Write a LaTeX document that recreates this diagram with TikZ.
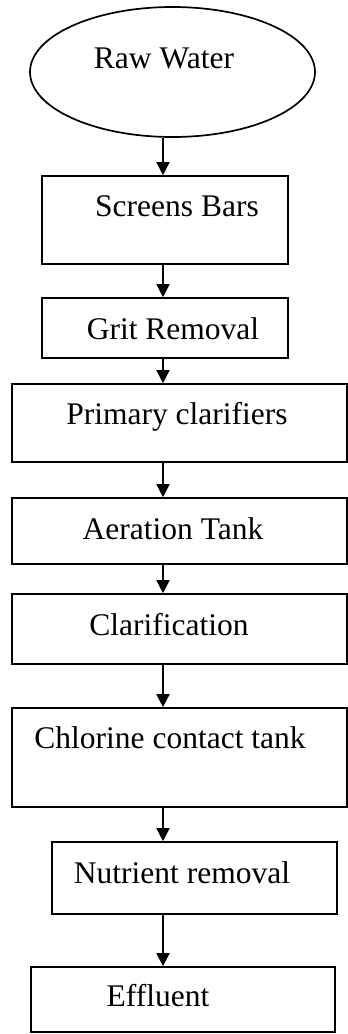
\documentclass[tikz,border=0pt]{standalone}
\usepackage{fontspec}
\setmainfont{Liberation Serif}
\usetikzlibrary{shapes.geometric,arrows.meta}
\begin{document}
\begin{tikzpicture}[x=1pt,y=-1pt,
  box/.style={draw,line width=1.7pt,rectangle,inner sep=0pt},
  lbl/.style={anchor=base,inner sep=0pt,font=\fontsize{31.5}{36}\selectfont},
  arr/.style={line width=1.7pt,-{Triangle[length=13pt,width=13pt]}}]
\useasboundingbox (0,0) rectangle (348,1034);
\node[draw,line width=1.7pt,ellipse,minimum width=285pt,minimum height=130pt,inner sep=0pt] (raw) at (172.5,72) {};
\node[box,minimum width=246pt,minimum height=88pt] (sb) at (165,220) {};
\node[box,minimum width=246pt,minimum height=60pt] (gr) at (165,328) {};
\node[box,minimum width=335pt,minimum height=78pt] (pc) at (179.5,423) {};
\node[box,minimum width=335pt,minimum height=66pt] (at) at (179.5,531) {};
\node[box,minimum width=335pt,minimum height=70pt] (cl) at (179.5,629) {};
\node[box,minimum width=335pt,minimum height=99pt] (cc) at (179.5,757.5) {};
\node[box,minimum width=285pt,minimum height=72pt] (nr) at (194.5,878) {};
\node[box,minimum width=304pt,minimum height=65pt] (ef) at (183,999.5) {};
\node[lbl] (traw) at (164,68) {Raw Water};
\node[lbl] (tsb) at (177,216) {Screens Bars};
\node[lbl] (tgr) at (173,339) {Grit Removal};
\node[lbl] (tpc) at (177,424) {Primary clarifiers};
\node[lbl] (tat) at (173,539) {Aeration Tank};
\node[lbl] (tcl) at (169,635) {Clarification};
\node[lbl] (tcc) at (170,748) {Chlorine contact tank};
\node[lbl] (tnr) at (182,883) {Nutrient removal};
\node[lbl] (tef) at (158,1006) {Effluent};
\coordinate (ax) at (163,0);
\draw[arr] (raw.south -| ax) -- (sb.north -| ax);
\draw[arr] (sb.south -| ax) -- (gr.north -| ax);
\draw[arr] (gr.south -| ax) -- (pc.north -| ax);
\draw[arr] (pc.south -| ax) -- (at.north -| ax);
\draw[arr] (at.south -| ax) -- (cl.north -| ax);
\draw[arr] (cl.south -| ax) -- (cc.north -| ax);
\draw[arr] (cc.south -| ax) -- (nr.north -| ax);
\draw[arr] (nr.south -| ax) -- (ef.north -| ax);
\end{tikzpicture}
\end{document}
